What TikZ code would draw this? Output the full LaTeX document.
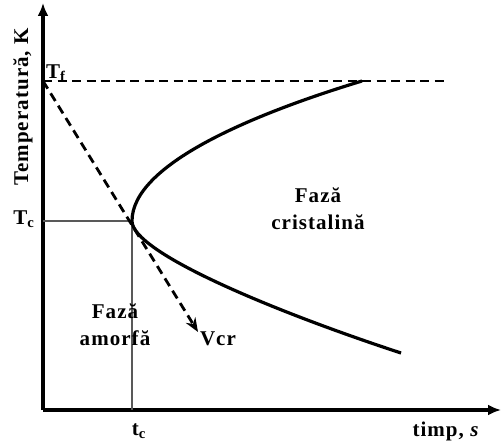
\documentclass[tikz,border=0pt]{standalone}
\usepackage{fontspec}
\setmainfont{Liberation Serif}[LetterSpace=5]
\usetikzlibrary{arrows.meta}

\begin{document}
\begin{tikzpicture}[x=1pt, y=-1pt,
  axis/.style={line width=3.2pt, -{Latex[length=13pt,width=11pt]}},
  guide/.style={line width=1.5pt, draw=black!65},
  tfline/.style={line width=2.8pt, dash pattern=on 9pt off 5.5pt},
  curve/.style={line width=3.2pt},
  lbl/.style={font=\fontsize{21}{27}\selectfont\bfseries,
    inner sep=1pt, align=center},
]
  \useasboundingbox (0,0) rectangle (501,441);

  % Key points
  \coordinate (O) at (43,410);
  \coordinate (ytop) at (43,3);
  \coordinate (xend) at (501,410);
  \coordinate (Tf) at (43,81);
  \coordinate (Tfend) at (447,81);
  \coordinate (nose) at (132,221);
  \coordinate (Tcax) at (43,221);
  \coordinate (tcax) at (132,410);
  \coordinate (up) at (362,81);
  \coordinate (low) at (401,353);
  \coordinate (vcr) at (198,332);

  % Axes
  \draw[axis] (O) -- (ytop);
  \draw[axis] (O) -- (xend);

  % Guides at Tc, tc
  \draw[guide] (Tcax) -- (nose) -- (tcax);

  % Melting temperature and critical cooling rate
  \draw[tfline] (Tf) -- (Tfend);
  \draw[tfline, -{Stealth[length=14pt,width=11pt,sep=0pt]}] (Tf) -- (vcr);

  % Crystallisation nose curve
  \draw[curve] (up) .. controls (250,115) and (132,165) .. (nose)
    .. controls (132,252) and (270,310) .. (low);

  % Labels
  \node[lbl, rotate=90] (tempL) at (23,107) {Temperatură, K};
  \node[lbl, anchor=west] (TfL) at (45,73) {T\textsubscript{f}};
  \node[lbl] (TcL) at (24,219) {T\textsubscript{c}};
  \node[lbl] (tcL) at (139,431) {t\textsubscript{c}};
  \node[lbl] (timpL) at (446,431) {timp, \textit{s}};
  \node[lbl] (crist) at (318,209) {Fază\\cristalină};
  \node[lbl] (amorf) at (115,325) {Fază\\amorfă};
  \node[lbl] (vcrL) at (218,339) {Vcr};
\end{tikzpicture}
\end{document}
